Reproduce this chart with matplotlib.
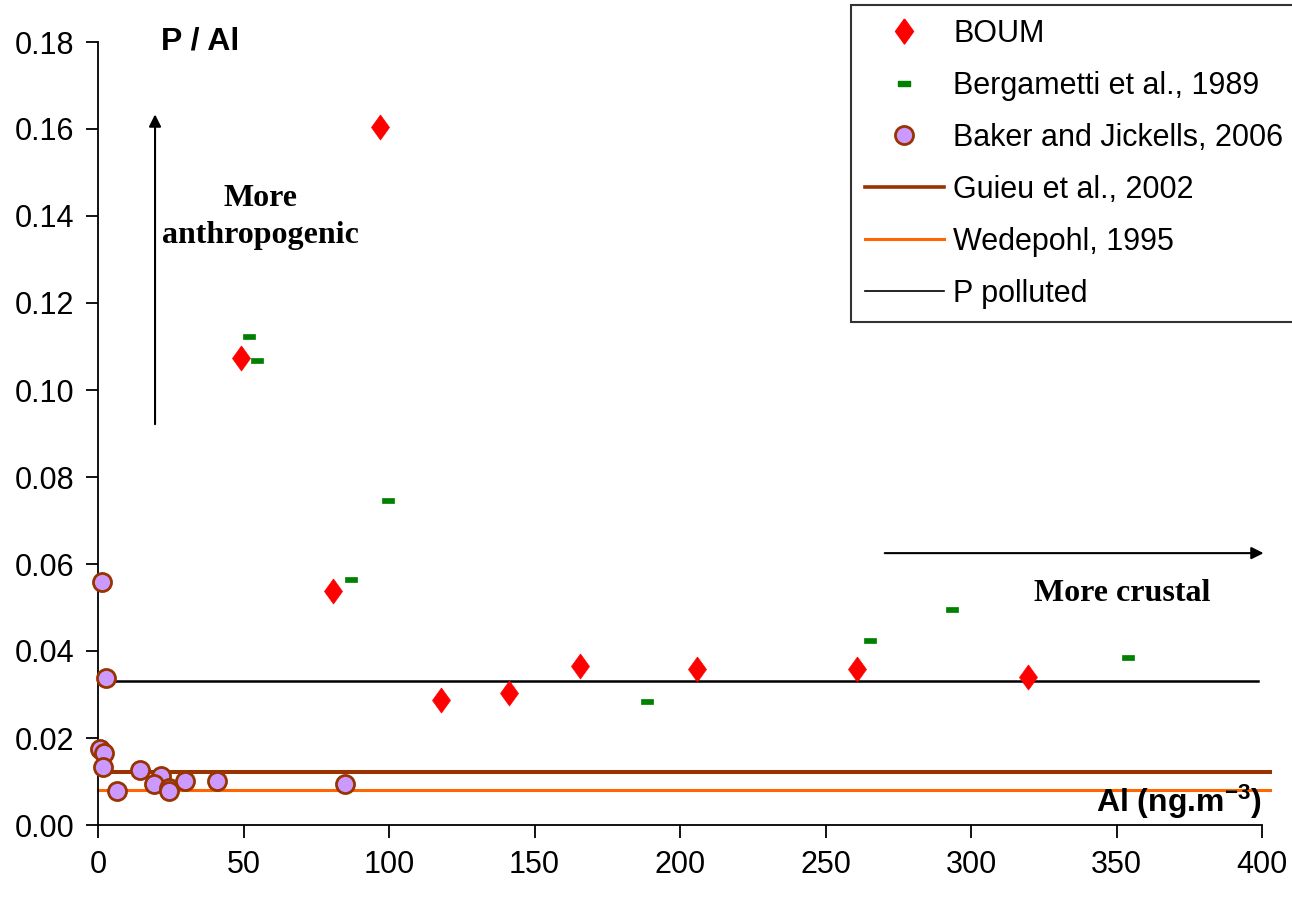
import matplotlib
matplotlib.use('Agg')
import matplotlib.pyplot as plt
from matplotlib.lines import Line2D
import numpy as np

plt.rcParams['font.family'] = ['Liberation Sans', 'DejaVu Sans']
plt.rcParams['mathtext.default'] = 'regular'

# BOUM
boum_al = [49.2, 80.6, 96.9, 117.8, 141.3, 165.8, 205.8, 260.7, 319.5]
boum_p = [0.1073, 0.0539, 0.1605, 0.0287, 0.0303, 0.0366, 0.0358, 0.0358, 0.0340]

# Bergametti et al., 1989
berg_al = [51.8, 54.7, 87.0, 99.5, 188.8, 265.2, 293.5, 354.0]
berg_p = [0.1124, 0.1069, 0.0565, 0.0746, 0.0284, 0.0425, 0.0497, 0.0386]

# Baker and Jickells, 2006
baker_al = [1.5, 2.7, 0.7, 2.0, 1.6, 14.5, 21.5, 19.2, 24.4, 24.5, 29.8, 40.9, 6.6, 84.8]
baker_p = [0.0558, 0.0337, 0.0174, 0.0165, 0.0133, 0.0126, 0.0113, 0.0094, 0.0084, 0.0078,
           0.0102, 0.0102, 0.0079, 0.0094]

# reference levels
guieu = 0.0121
wedepohl = 0.0080
p_polluted = 0.0332

xticks = [0, 50, 100, 150, 200, 250, 300, 350, 400]
yticks = [0.00, 0.02, 0.04, 0.06, 0.08, 0.10, 0.12, 0.14, 0.16, 0.18]

diamond = [(0, 1), (0.72, 0), (0, -1), (-0.72, 0), (0, 1)]
dash = [(-1, -0.4), (1, -0.4), (1, 0.4), (-1, 0.4), (-1, -0.4)]

fig = plt.figure(figsize=(12.92, 8.97), dpi=100)
ax = fig.add_axes([98 / 1292, 72 / 897, 1164 / 1292, 783 / 897])

ax.plot([0, 402.7], [guieu, guieu], color='#993300', lw=2.9, zorder=2, clip_on=False)
ax.plot([0, 402.7], [wedepohl, wedepohl], color='#FF6600', lw=2.2, zorder=2, clip_on=False)
ax.plot([0, 398.6], [p_polluted, p_polluted], color='black', lw=1.8, zorder=2)

ax.plot(baker_al, baker_p, ls='none', marker='o', ms=13, mfc='#CC99FF', mec='#993300', mew=2.0,
        zorder=3, clip_on=False)
ax.plot(berg_al, berg_p, ls='none', marker=dash, ms=9, mfc='#008000', mec='#008000', mew=0.5, zorder=3)
ax.plot(boum_al, boum_p, ls='none', marker=diamond, ms=18, mfc='#FF0000', mec='#FF0000', mew=0.5, zorder=4)

ax.set_xlim(0, 400)
ax.set_ylim(0, 0.18)
ax.set_xticks(xticks)
ax.set_yticks(yticks)
ax.set_yticklabels([f'{v:.2f}' for v in yticks])
ax.tick_params(axis='both', labelsize=22, length=9, width=1.3, direction='out')
ax.tick_params(axis='x', pad=9)
ax.tick_params(axis='y', pad=8)
for s in ['top', 'right']:
    ax.spines[s].set_visible(False)
for s in ['left', 'bottom']:
    ax.spines[s].set_linewidth(1.3)

ax.text(0.054, 1.0, 'P / Al', transform=ax.transAxes, fontsize=23, fontweight='bold', va='center')
ax.text(1.0, 0.005, 'Al (ng.m$^{-3}$)', transform=ax.transAxes, fontsize=23, fontweight='bold',
        ha='right', va='bottom')

ax.annotate('', xy=(19.6, 0.164), xytext=(19.6, 0.0915), annotation_clip=False,
            arrowprops=dict(arrowstyle='-|>', color='black', lw=1.5, mutation_scale=18))
ax.text(55.7, 0.1398, 'More\nanthropogenic', fontsize=23, fontweight='bold', family='Liberation Serif',
        ha='center', va='center', linespacing=1.35)
ax.annotate('', xy=(401.5, 0.0625), xytext=(269.4, 0.0625), annotation_clip=False,
            arrowprops=dict(arrowstyle='-|>', color='black', lw=1.5, mutation_scale=18))
ax.text(352, 0.0533, 'More crustal', fontsize=23, fontweight='bold', family='Liberation Serif',
        ha='center', va='center')

handles = [
    Line2D([], [], ls='none', marker=diamond, ms=18, mfc='#FF0000', mec='#FF0000'),
    Line2D([], [], ls='none', marker=dash, ms=9, mfc='#008000', mec='#008000'),
    Line2D([], [], ls='none', marker='o', ms=13, mfc='#CC99FF', mec='#993300', mew=2.0),
    Line2D([], [], color='#993300', lw=2.6),
    Line2D([], [], color='#FF6600', lw=2.2),
    Line2D([], [], color='black', lw=1.2),
]
labels = ['BOUM', 'Bergametti et al., 1989', 'Baker and Jickells, 2006',
          'Guieu et al., 2002', 'Wedepohl, 1995', 'P polluted']
leg = fig.legend(handles, labels, loc='upper left', bbox_to_anchor=(851 / 1292, 1 - 5 / 897),
                 fontsize=22, frameon=True, fancybox=False, edgecolor='black',
                 handlelength=2.58, handletextpad=0.32, labelspacing=0.72, borderpad=0.45,
                 borderaxespad=0)
leg.get_frame().set_linewidth(1.5)

fig.savefig('out.png', dpi=100, facecolor='white')
